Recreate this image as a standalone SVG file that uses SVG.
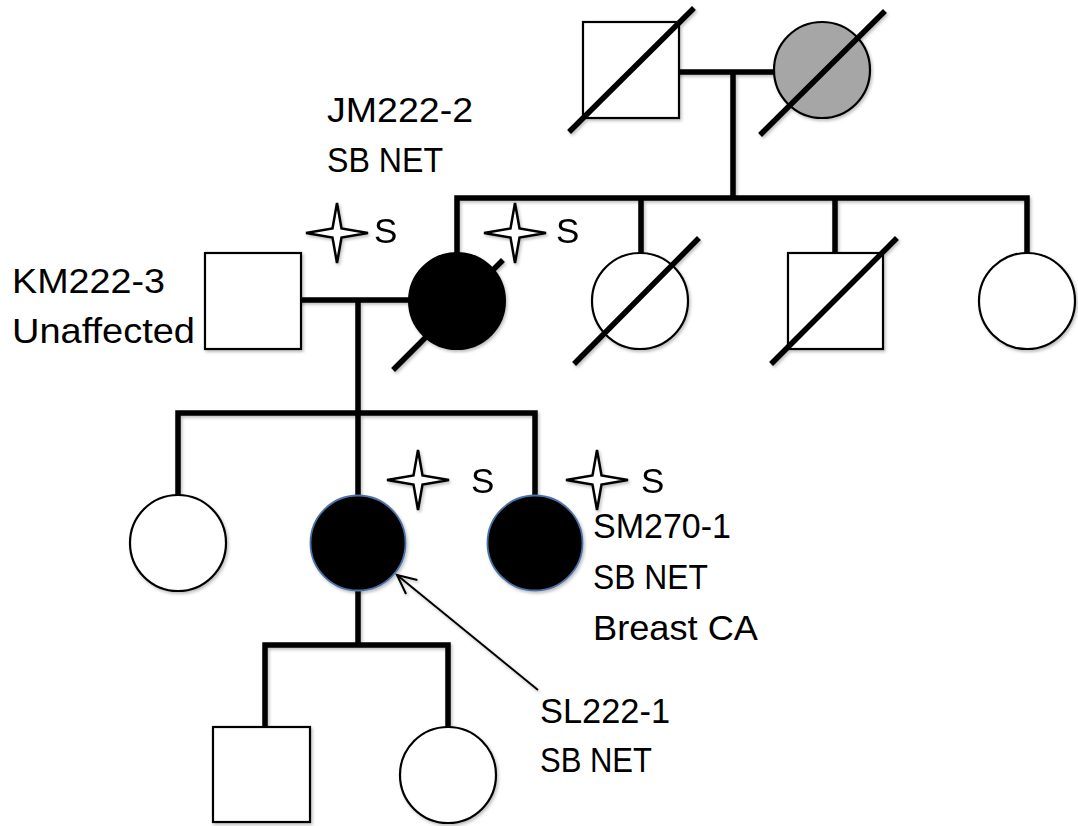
<svg xmlns="http://www.w3.org/2000/svg" width="1078" height="826" viewBox="0 0 1078 826">
<style>
.ln{stroke:#000;stroke-width:5.5;fill:none;stroke-linecap:square}
.nd{stroke:#000;stroke-width:2.2;fill:#fff}
.sl{stroke:#000;stroke-width:5.5;stroke-linecap:square}
.aff{fill:#000;stroke:#000;stroke-width:2}
.aff2{fill:#000;stroke:#4a72a8;stroke-width:1.8}
.grey{fill:#a6a6a6;stroke:#000;stroke-width:2.2}
.tx{font-family:"Liberation Sans",Arial,sans-serif;font-size:35px;fill:#000}
.star{fill:#fff;stroke:#000;stroke-width:2.5;stroke-linejoin:miter}
</style>
<defs>
<filter id="sh" x="-10%" y="-10%" width="130%" height="130%">
<feDropShadow dx="1.5" dy="2" stdDeviation="1.5" flood-color="#000" flood-opacity="0.25"/>
</filter>
<path id="st" d="M0,-30 L4.5,-4.5 L31,0 L4.5,4.5 L0,30 L-4.5,4.5 L-31,0 L-4.5,-4.5 Z"/>
<marker id="ah" markerWidth="24" markerHeight="20" refX="21" refY="10" orient="auto" markerUnits="userSpaceOnUse" viewBox="0 0 24 20">
<path d="M2,1 L21,10 L2,19" fill="none" stroke="#000" stroke-width="2"/>
</marker>
</defs>
<g id="connectors" filter="url(#sh)">
<path class="ln" d="M679,72 H774 M733,72 V198 M457,198 H1027 M457,198 V253 M641,198 V253 M835,198 V253 M1027,198 V253"/>
<path class="ln" d="M301,300 H409 M358,300 V413 M178,413 H535 M178,413 V495 M358,413 V495 M535,413 V495"/>
<path class="ln" d="M358,590 V645 M265,645 H448 M265,645 V727 M448,645 V727"/>
<line x1="538" y1="690" x2="397" y2="575" stroke="#000" stroke-width="2" marker-end="url(#ah)"/>
</g>
<g id="I1" filter="url(#sh)">
<rect class="nd" x="583" y="22" width="96" height="96"/>
<line class="sl" x1="571" y1="130" x2="692" y2="10"/>
</g>
<g id="I2" filter="url(#sh)">
<circle class="grey" cx="822" cy="70" r="48"/>
<line class="sl" x1="762" y1="133" x2="883" y2="13"/>
</g>
<g id="KM222-3" filter="url(#sh)">
<rect class="nd" x="205" y="253" width="96" height="96"/>
</g>
<text class="tx" x="12" y="293" textLength="153" lengthAdjust="spacingAndGlyphs">KM222-3</text>
<text class="tx" x="12" y="343" textLength="183" lengthAdjust="spacingAndGlyphs">Unaffected</text>
<g id="JM222-2" filter="url(#sh)">
<circle class="aff" cx="457" cy="301" r="48"/>
<line class="sl" x1="395" y1="368" x2="501" y2="262"/>
</g>
<text class="tx" x="327" y="122" textLength="146" lengthAdjust="spacingAndGlyphs">JM222-2</text>
<text class="tx" x="327" y="172" textLength="116" lengthAdjust="spacingAndGlyphs">SB NET</text>
<g id="II3" filter="url(#sh)">
<circle class="nd" cx="640" cy="301" r="48"/>
<line class="sl" x1="576" y1="362" x2="697" y2="240"/>
</g>
<g id="II4" filter="url(#sh)">
<rect class="nd" x="788" y="253" width="95" height="96"/>
<line class="sl" x1="773" y1="362" x2="895" y2="240"/>
</g>
<g id="II5" filter="url(#sh)">
<circle class="nd" cx="1027" cy="301" r="48"/>
</g>
<g id="III1" filter="url(#sh)">
<circle class="nd" cx="178" cy="543" r="48"/>
</g>
<g id="SL222-1" filter="url(#sh)">
<circle class="aff2" cx="358" cy="543" r="47.5"/>
</g>
<text class="tx" x="540" y="723" textLength="130" lengthAdjust="spacingAndGlyphs">SL222-1</text>
<text class="tx" x="540" y="772" textLength="112" lengthAdjust="spacingAndGlyphs">SB NET</text>
<g id="SM270-1" filter="url(#sh)">
<circle class="aff2" cx="535" cy="543" r="47.5"/>
</g>
<text class="tx" x="593" y="538" textLength="138" lengthAdjust="spacingAndGlyphs">SM270-1</text>
<text class="tx" x="593" y="589" textLength="115" lengthAdjust="spacingAndGlyphs">SB NET</text>
<text class="tx" x="593" y="640" textLength="165" lengthAdjust="spacingAndGlyphs">Breast CA</text>
<g id="IV1" filter="url(#sh)">
<rect class="nd" x="213" y="727" width="97" height="95"/>
</g>
<g id="IV2" filter="url(#sh)">
<circle class="nd" cx="448" cy="775" r="48"/>
</g>
<g id="markers" filter="url(#sh)">
<use href="#st" class="star" x="337" y="233"/>
<use href="#st" class="star" x="515" y="233"/>
<use href="#st" class="star" x="418" y="480"/>
<use href="#st" class="star" x="597" y="480"/>
</g>
<text class="tx" x="374" y="243">S</text>
<text class="tx" x="556" y="243">S</text>
<text class="tx" x="471" y="493">S</text>
<text class="tx" x="641" y="493">S</text>
</svg>
